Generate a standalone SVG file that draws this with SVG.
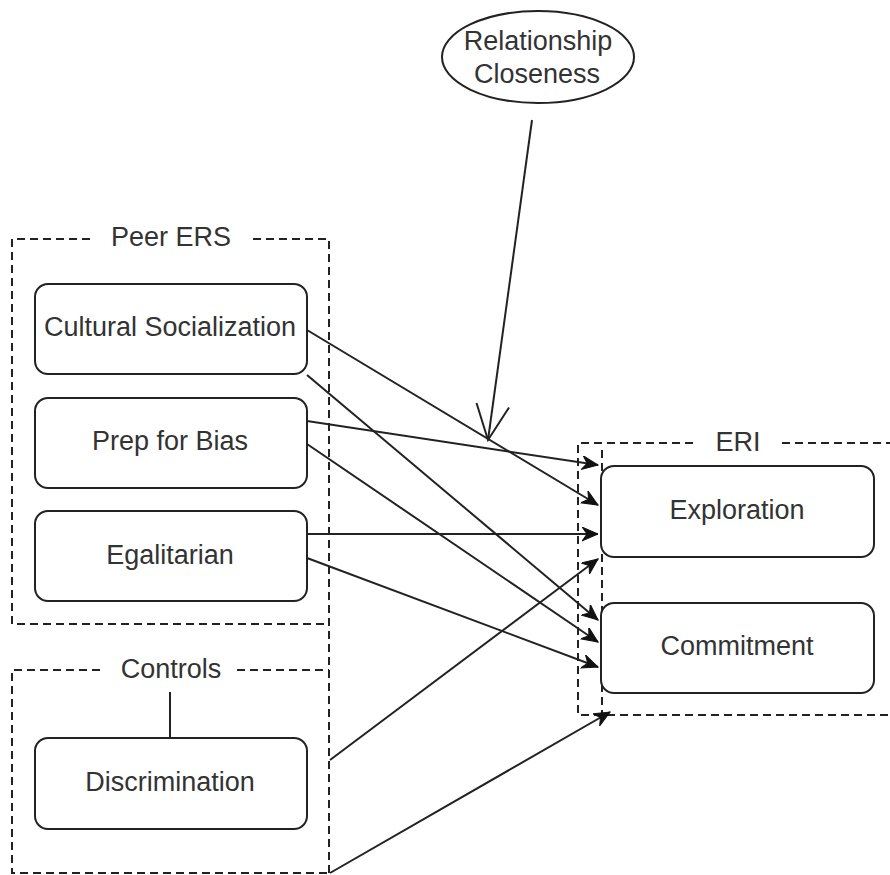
<svg xmlns="http://www.w3.org/2000/svg" width="890" height="875" viewBox="0 0 890 875">
<style>
  text { font-family: "Liberation Sans", Arial, sans-serif; font-size: 27px; fill: #333; text-anchor: middle; }
  .box { fill: #fff; stroke: #222; stroke-width: 2; }
  .dash { fill: none; stroke: #222; stroke-width: 2; stroke-dasharray: 8 5; }
  .edge { fill: none; stroke: #222; stroke-width: 2; }
</style>
<defs>
  <marker id="arr" markerUnits="userSpaceOnUse" markerWidth="18" markerHeight="16" refX="16" refY="7" orient="auto">
    <path d="M0,0 L16,7 L0,14 L5,7 z" fill="#111" stroke="#111" stroke-width="1" stroke-linejoin="miter"/>
  </marker>
</defs>
<rect width="890" height="875" fill="#fff"/>

<g id="group-peer-ers">
  <path class="dash" d="M90,239 L12,239 L12,624 L329,624 M253,239 L329,239 L329,873"/>
  <text x="171" y="246">Peer ERS</text>
</g>
<g id="group-controls">
  <path class="dash" d="M100,670 L12,670 L12,873 L329,873 M237,670 L329,670"/>
  <text x="171" y="678">Controls</text>
</g>
<g id="group-eri">
  <path class="dash" d="M693,443 L578,443 L578,715 L890,715 M782,443 L890,443 M602,450 L602,715"/>
  <text x="738" y="451">ERI</text>
</g>

<g id="connectors">
  <line class="edge" x1="532" y1="120" x2="488" y2="440"/>
  <polyline class="edge" points="476.5,403 488,440 509,407.5"/>
  <line class="edge" x1="170" y1="692" x2="170" y2="738"/>
  <line class="edge" x1="307" y1="330" x2="598" y2="505" marker-end="url(#arr)"/>
  <line class="edge" x1="307" y1="375" x2="598" y2="620" marker-end="url(#arr)"/>
  <line class="edge" x1="307" y1="421" x2="598" y2="465" marker-end="url(#arr)"/>
  <line class="edge" x1="307" y1="444" x2="598" y2="642" marker-end="url(#arr)"/>
  <line class="edge" x1="307" y1="534" x2="598" y2="534" marker-end="url(#arr)"/>
  <line class="edge" x1="307" y1="558" x2="598" y2="667" marker-end="url(#arr)"/>
  <line class="edge" x1="330" y1="760" x2="598" y2="559" marker-end="url(#arr)"/>
  <line class="edge" x1="330" y1="873" x2="610" y2="712" marker-end="url(#arr)"/>
</g>

<g id="node-relationship-closeness">
  <ellipse class="box" cx="538" cy="57" rx="96" ry="46"/>
  <text x="538" y="50">Relationship</text>
  <text x="537" y="83">Closeness</text>
</g>
<g id="node-cultural-socialization">
  <rect class="box" x="35" y="284" width="272" height="90" rx="13"/>
  <text x="170" y="336">Cultural Socialization</text>
</g>
<g id="node-prep-for-bias">
  <rect class="box" x="35" y="398" width="272" height="90" rx="13"/>
  <text x="170" y="450">Prep for Bias</text>
</g>
<g id="node-egalitarian">
  <rect class="box" x="35" y="511" width="272" height="90" rx="13"/>
  <text x="170" y="564">Egalitarian</text>
</g>
<g id="node-discrimination">
  <rect class="box" x="35" y="738" width="272" height="91" rx="13"/>
  <text x="170" y="791">Discrimination</text>
</g>
<g id="node-exploration">
  <rect class="box" x="601" y="466" width="273" height="91" rx="13"/>
  <text x="737" y="519">Exploration</text>
</g>
<g id="node-commitment">
  <rect class="box" x="601" y="603" width="273" height="90" rx="13"/>
  <text x="737" y="655">Commitment</text>
</g>
</svg>
